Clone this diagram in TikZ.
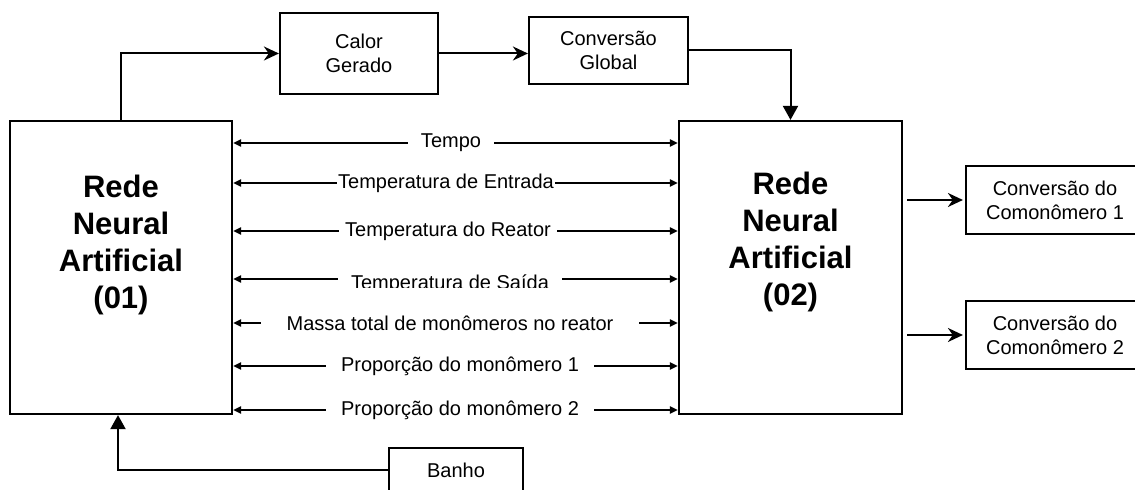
\documentclass[tikz,border=0pt]{standalone}
\usepackage{fontspec}
\setmainfont{Liberation Sans}
\usetikzlibrary{arrows.meta}
\pgfdeclarelayer{bg}
\pgfsetlayers{bg,main}
\begin{document}
\begin{tikzpicture}[x=0.5pt,y=-0.5pt,
  box/.style={draw,line width=1.1pt,rectangle,inner sep=0pt,align=center,
    font=\fontsize{10}{12}\selectfont},
  big/.style={align=center,font=\fontsize{15.5}{18.5}\selectfont\bfseries,inner sep=0pt},
  lbl/.style={fill=white,inner ysep=1pt,font=\fontsize{10}{12}\selectfont},
  conn/.style={line width=1pt},
  dbl/.style={conn,{Triangle[length=4pt,width=3.5pt]}-{Triangle[length=4pt,width=3.5pt]}},
  stl/.style={conn,-{Stealth[length=7.5pt,width=7pt]}},
  tri/.style={conn,-{Triangle[length=7pt,width=7.5pt]}},
]
\useasboundingbox (0,0) rectangle (1135,490);

% main boxes
\node[box,minimum width=111pt,minimum height=146.5pt] (L) at (121,267.5) {};
\node[box,minimum width=111.5pt,minimum height=146.5pt] (R) at (790.5,267.5) {};
\node[big] (Lt) at (121,245) {Rede\\Neural\\Artificial\\(01)};
\node[big] (Rt) at (790.5,242) {Rede\\Neural\\Artificial\\(02)};

% top boxes
\node[box,minimum width=79pt,minimum height=40.5pt] (C) at (359,53.5) {Calor\\Gerado};
\node[box,minimum width=79.5pt,minimum height=33.5pt] (G) at (608.5,50.5) {Conversão\\Global};

% output boxes
\node[box,minimum width=89pt,minimum height=34pt] (O1) at (1055,200) {Conversão do\\Comonômero 1};
\node[box,minimum width=89pt,minimum height=34pt] (O2) at (1055,335) {Conversão do\\Comonômero 2};

% bath
\node[box,minimum width=67pt,minimum height=22pt] (B) at (456,470) {Banho};

% labels on the input lines
\node[lbl,inner xsep=6.5pt] (t1) at (451,143) {Tempo};
\node[lbl,inner xsep=0.5pt] (t2) at (446,183) {Temperatura de Entrada};
\node[lbl,inner xsep=3pt] (t3) at (448,231) {Temperatura do Reator};
\coordinate (y4) at (450,279);
\begin{scope}
  \clip (0,0) rectangle (1135,288);
  \node[lbl,inner xsep=6.5pt,anchor=base] (t4) at (450,290) {Temperatura de Saída};
\end{scope}
\node[lbl,inner xsep=13pt] (t5) at (450,323) {Massa total de monômeros no reator};
\node[lbl,inner xsep=7.5pt] (t6) at (460,366) {Proporção do monômero 1};
\node[lbl,inner xsep=7.5pt] (t7) at (460,410) {Proporção do monômero 2};

\begin{pgfonlayer}{bg}
  \draw[dbl] (L.east |- t1) -- (R.west |- t1);
  \draw[dbl] (L.east |- t2) -- (R.west |- t2);
  \draw[dbl] (L.east |- t3) -- (R.west |- t3);
  \draw[dbl] (L.east |- y4) -- (R.west |- y4);
  \draw[dbl] (L.east |- t5) -- (R.west |- t5);
  \draw[dbl] (L.east |- t6) -- (R.west |- t6);
  \draw[dbl] (L.east |- t7) -- (R.west |- t7);
\end{pgfonlayer}

% connectors
\draw[stl] (L.north) |- (C.west);
\draw[stl] (C.east) -- (G.west |- C.east);
\draw[tri] (G.east) -| (R.north);
\draw[stl,shorten >=1pt] ([xshift=2pt]R.east |- O1.west) -- (O1.west);
\draw[stl,shorten >=1pt] ([xshift=2pt]R.east |- O2.west) -- (O2.west);
\draw[tri] (B.west) -| ([xshift=-1.5pt]L.south);
\end{tikzpicture}
\end{document}
